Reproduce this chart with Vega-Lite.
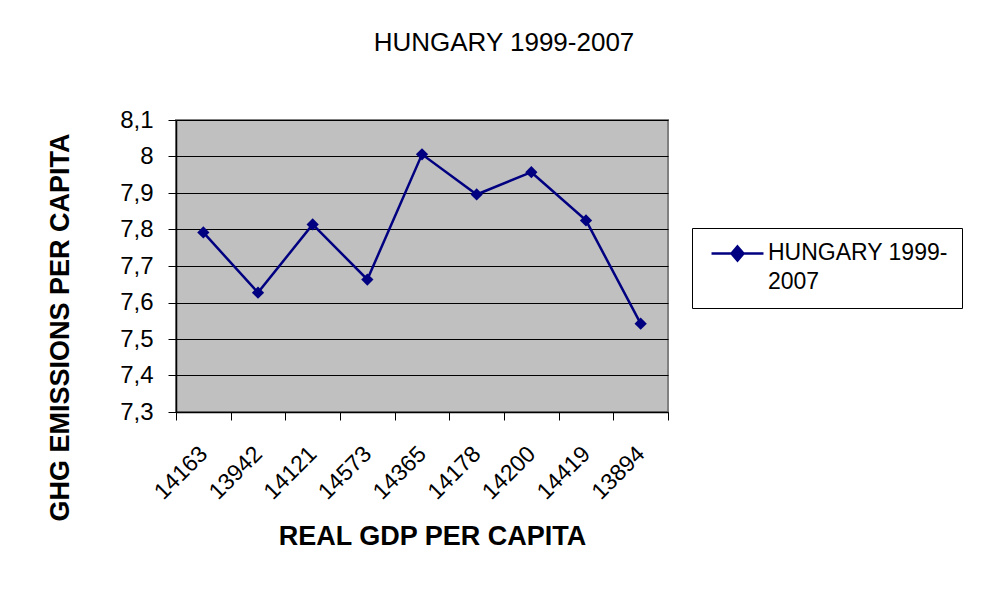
{
  "$schema": "https://vega.github.io/schema/vega-lite/v6.json",
  "width": 492,
  "height": 292,
  "autosize": {"type": "none"},
  "padding": {"left": 176, "top": 120, "right": 317, "bottom": 178},
  "background": "white",
  "title": {
    "text": "HUNGARY 1999-2007",
    "font": "Liberation Sans",
    "fontSize": 26,
    "fontWeight": "normal",
    "color": "black",
    "anchor": "middle",
    "frame": "group",
    "dx": 82,
    "offset": 52
  },
  "config": {
    "view": {"fill": "#C0C0C0", "stroke": "#808080", "strokeWidth": 2},
    "font": "Liberation Sans"
  },
  "data": {
    "values": [
      {"gdp": "14163", "ghg": 7.792, "series": "HUNGARY 1999-2007"},
      {"gdp": "13942", "ghg": 7.627, "series": "HUNGARY 1999-2007"},
      {"gdp": "14121", "ghg": 7.814, "series": "HUNGARY 1999-2007"},
      {"gdp": "14573", "ghg": 7.663, "series": "HUNGARY 1999-2007"},
      {"gdp": "14365", "ghg": 8.006, "series": "HUNGARY 1999-2007"},
      {"gdp": "14178", "ghg": 7.896, "series": "HUNGARY 1999-2007"},
      {"gdp": "14200", "ghg": 7.957, "series": "HUNGARY 1999-2007"},
      {"gdp": "14419", "ghg": 7.825, "series": "HUNGARY 1999-2007"},
      {"gdp": "13894", "ghg": 7.542, "series": "HUNGARY 1999-2007"}
    ]
  },
  "encoding": {
    "x": {
      "field": "gdp",
      "type": "nominal",
      "sort": null,
      "bandPosition": 0.5,
      "scale": {"type": "band", "paddingInner": 0, "paddingOuter": 0},
      "axis": {
        "title": "REAL GDP PER CAPITA",
        "titleFont": "Liberation Sans",
        "titleFontSize": 27,
        "titleFontWeight": "bold",
        "titleColor": "black",
        "titleX": 256,
        "titleY": 124,
        "titleBaseline": "middle",
        "titleAlign": "center",
        "labelAngle": -45,
        "labelAlign": "right",
        "labelBaseline": "middle",
        "labelFont": "Liberation Sans",
        "labelFontSize": 23,
        "labelColor": "black",
        "labelPadding": 30,
        "tickBand": "extent",
        "tickSize": 8,
        "tickColor": "black",
        "tickWidth": 1,
        "domainColor": "black",
        "domainWidth": 1.5,
        "grid": false
      }
    },
    "y": {
      "field": "ghg",
      "type": "quantitative",
      "scale": {"domain": [7.3, 8.1], "nice": false, "zero": false},
      "axis": {
        "title": "GHG EMISSIONS PER CAPITA",
        "titleFont": "Liberation Sans",
        "titleFontSize": 27,
        "titleFontWeight": "bold",
        "titleColor": "black",
        "titleAngle": 270,
        "titleX": -116,
        "titleY": 207,
        "titleAlign": "center",
        "titleBaseline": "middle",
        "values": [7.3, 7.4, 7.5, 7.6, 7.7, 7.8, 7.9, 8.0, 8.1],
        "labelExpr": "replace(format(datum.value, '.1~f'), '.', ',')",
        "labelFont": "Liberation Sans",
        "labelFontSize": 24,
        "labelColor": "black",
        "labelPadding": 15,
        "tickSize": 8,
        "tickColor": "black",
        "domainColor": "black",
        "domainWidth": 1.5,
        "grid": true,
        "gridColor": "black",
        "gridWidth": 1
      }
    },
    "color": {
      "field": "series",
      "type": "nominal",
      "scale": {"range": ["#000080"]},
      "legend": {
        "orient": "none",
        "legendX": 516,
        "legendY": 108,
        "title": null,
        "strokeColor": "black",
        "fillColor": "white",
        "padding": 14,
        "symbolOffset": 20,
        "symbolType": "M-4.33,0L4.33,0M0,-1.17L1,0L0,1.17L-1,0Z",
        "symbolSize": 144,
        "symbolStrokeWidth": 2.5,
        "symbolFillColor": "#000080",
        "symbolStrokeColor": "#000080",
        "labelFont": "Liberation Sans",
        "labelFontSize": 23,
        "labelColor": "black",
        "labelLimit": 400,
        "labelOffset": 19,
        "labelBaseline": "top",
        "labelExpr": "['HUNGARY 1999-', '2007']",
        "encode": {
          "labels": {"update": {"dy": {"value": -12}, "lineHeight": {"value": 29}}},
          "symbols": {"update": {"fill": {"value": "#000080"}}}
        }
      }
    }
  },
  "layer": [
    {"mark": {"type": "line", "strokeWidth": 2.5}},
    {"mark": {"type": "point", "shape": "diamond", "filled": true, "size": 150, "opacity": 1}}
  ]
}
